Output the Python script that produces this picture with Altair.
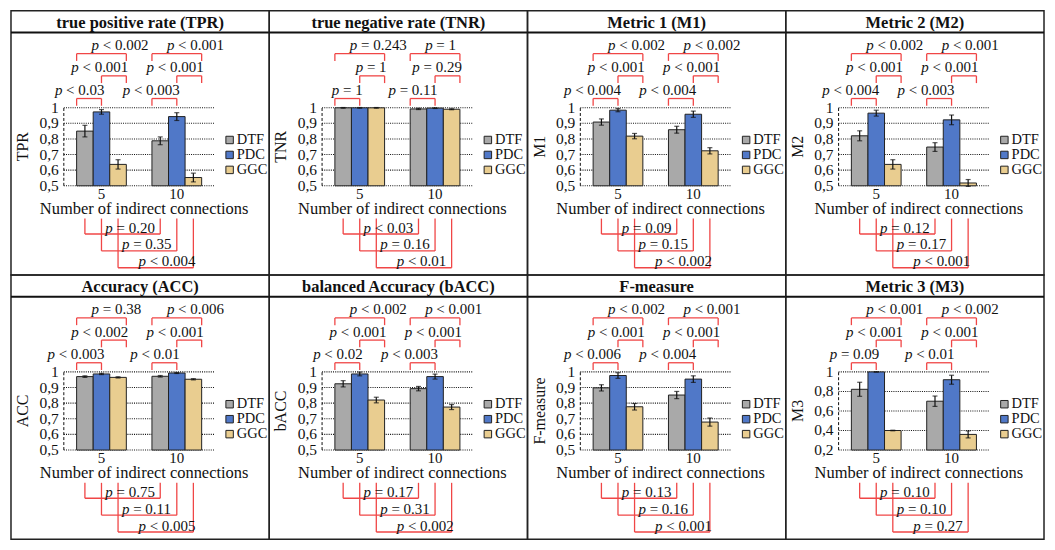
import altair as alt
import pandas as pd

FONT = "Liberation Serif"

TITLES = ["true positive rate (TPR)", "true negative rate (TNR)", "Metric 1 (M1)", "Metric 2 (M2)",
          "Accuracy (ACC)", "balanced Accuracy (bACC)", "F-measure", "Metric 3 (M3)"]
Y_TITLES = ["TPR", "TNR", "M1", "M2", "ACC", "bACC", "F-measure", "M3"]
METHODS = ["DTF", "PDC", "GGC"]
GROUPS = ["5", "10"]
X_TITLE = "Number of indirect connections"
COLORS = ["#a9a9a9", "#5078c8", "#e9cd90"]

# order: DTF5, PDC5, GGC5, DTF10, PDC10, GGC10
TPR_MEAN = [0.850, 0.973, 0.637, 0.788, 0.943, 0.553]
TPR_ERR = [0.037, 0.015, 0.030, 0.025, 0.025, 0.028]
TNR_MEAN = [0.999, 0.999, 0.999, 0.992, 0.997, 0.990]
TNR_ERR = [0.002, 0.002, 0.002, 0.004, 0.002, 0.003]
M1_MEAN = [0.908, 0.984, 0.818, 0.859, 0.958, 0.724]
M1_ERR = [0.020, 0.010, 0.017, 0.022, 0.020, 0.020]
M2_MEAN = [0.820, 0.965, 0.637, 0.748, 0.922, 0.518]
M2_ERR = [0.032, 0.019, 0.030, 0.028, 0.031, 0.022]
ACC_MEAN = [0.970, 0.987, 0.965, 0.972, 0.993, 0.953]
ACC_ERR = [0.005, 0.004, 0.004, 0.005, 0.003, 0.004]
BACC_MEAN = [0.924, 0.987, 0.820, 0.893, 0.970, 0.775]
BACC_ERR = [0.020, 0.012, 0.018, 0.014, 0.016, 0.016]
F_MEAN = [0.898, 0.977, 0.777, 0.852, 0.954, 0.679]
F_ERR = [0.020, 0.018, 0.021, 0.023, 0.021, 0.026]
M3_MEAN = [0.822, 1.000, 0.400, 0.700, 0.920, 0.360]
M3_ERR = [0.072, 0.000, 0.003, 0.053, 0.046, 0.036]

# top brackets: group 5 (DTF-PDC, PDC-GGC, DTF-GGC), then group 10 (same)
TPR_PTOP = ["p < 0.03", "p < 0.001", "p < 0.002", "p < 0.003", "p < 0.001", "p < 0.001"]
TNR_PTOP = ["p = 1", "p = 1", "p = 0.243", "p = 0.11", "p = 0.29", "p = 1"]
M1_PTOP = ["p < 0.004", "p < 0.001", "p < 0.002", "p < 0.004", "p < 0.001", "p < 0.002"]
M2_PTOP = ["p < 0.004", "p < 0.001", "p < 0.002", "p < 0.003", "p < 0.001", "p < 0.001"]
ACC_PTOP = ["p < 0.003", "p < 0.002", "p = 0.38", "p < 0.01", "p < 0.001", "p < 0.006"]
BACC_PTOP = ["p < 0.02", "p < 0.001", "p < 0.002", "p < 0.003", "p < 0.001", "p < 0.001"]
F_PTOP = ["p < 0.006", "p < 0.001", "p < 0.002", "p < 0.004", "p < 0.001", "p < 0.001"]
M3_PTOP = ["p = 0.09", "p < 0.001", "p < 0.001", "p < 0.01", "p < 0.001", "p < 0.002"]

# bottom brackets: 5 vs 10 for DTF, PDC, GGC
TPR_PBOT = ["p = 0.20", "p = 0.35", "p < 0.004"]
TNR_PBOT = ["p < 0.03", "p = 0.16", "p < 0.01"]
M1_PBOT = ["p = 0.09", "p = 0.15", "p < 0.002"]
M2_PBOT = ["p = 0.12", "p = 0.17", "p < 0.001"]
ACC_PBOT = ["p = 0.75", "p = 0.11", "p < 0.005"]
BACC_PBOT = ["p = 0.17", "p = 0.31", "p < 0.002"]
F_PBOT = ["p = 0.13", "p = 0.16", "p < 0.001"]
M3_PBOT = ["p = 0.10", "p = 0.10", "p = 0.27"]

Y_TICKS_STD = [0.5, 0.6, 0.7, 0.8, 0.9, 1.0]
Y_LABELS_STD = ["0,5", "0,6", "0,7", "0,8", "0,9", "1"]
Y_TICKS_M3 = [0.2, 0.4, 0.6, 0.8, 1.0]
Y_LABELS_M3 = ["0,2", "0,4", "0,6", "0,8", "1"]

MEANS = [TPR_MEAN, TNR_MEAN, M1_MEAN, M2_MEAN, ACC_MEAN, BACC_MEAN, F_MEAN, M3_MEAN]
ERRS = [TPR_ERR, TNR_ERR, M1_ERR, M2_ERR, ACC_ERR, BACC_ERR, F_ERR, M3_ERR]
PTOPS = [TPR_PTOP, TNR_PTOP, M1_PTOP, M2_PTOP, ACC_PTOP, BACC_PTOP, F_PTOP, M3_PTOP]
PBOTS = [TPR_PBOT, TNR_PBOT, M1_PBOT, M2_PBOT, ACC_PBOT, BACC_PBOT, F_PBOT, M3_PBOT]
TICKS = [Y_TICKS_STD] * 7 + [Y_TICKS_M3]
TICKLABELS = [Y_LABELS_STD] * 7 + [Y_LABELS_M3]

# ---------------- layout (pixels inside one cell) ----------------
W, H = 259, 265
SX, SY = W / 264.0, H / 274.0
PL, PR = 54 * SX, 208 * SX
PT, PB = 100.5 * SY, 181.5 * SY
PPX = (PR - PL) / 2.0
BW = 0.22
GC = [0.5, 1.5]
OFFS = {"DTF": -BW, "PDC": 0.0, "GGC": BW}
ANCHOR = {"DTF": -1.5 * BW, "PDC": 0.0, "GGC": 1.5 * BW}
TOP_PAIRS = [("DTF", "PDC"), ("PDC", "GGC"), ("DTF", "GGC")]
TOP_LEVEL_PX = [PT - 9.5 * SY, PT - 33 * SY, PT - 56 * SY]
TOP_DROP = 7.5 * SY
BOT_TOP_PX = PB + 34 * SY
BOT_LEVEL_PX = [PB + 50 * SY, PB + 67.5 * SY, PB + 85 * SY]
FS_P = 15
RED = "#f04646"
CHW = {" ": 0.25, "<": 0.564, "=": 0.564, ".": 0.25}


def text_w(s, fs):
    return fs * sum(CHW.get(c, 0.5) for c in s)


def panel(i):
    ymin = TICKS[i][0]
    ppu = (PB - PT) / (1.0 - ymin)

    def yd(py):
        return 1.0 - (py - PT) / ppu

    def xd(px):
        return (px - PL) / PPX

    xs = alt.Scale(domain=[xd(0), xd(W)], nice=False, zero=False)
    ys = alt.Scale(domain=[yd(H), yd(0)], nice=False, zero=False)
    X = lambda f: alt.X(f, type="quantitative", scale=xs, axis=None)
    Y = lambda f: alt.Y(f, type="quantitative", scale=ys, axis=None)

    rows = []
    caps = []
    for gi, g in enumerate(GROUPS):
        for mi, m in enumerate(METHODS):
            v = MEANS[i][gi * 3 + mi]
            e = ERRS[i][gi * 3 + mi]
            xc = GC[gi] + OFFS[m]
            rows.append(dict(method=m, group=g, mean=v, xc=xc, xl=xc - BW / 2, xr=xc + BW / 2,
                             base=ymin, lo=v - e, hi=v + e))
            caps.append(dict(xc=xc, yc=v - e))
            caps.append(dict(xc=xc, yc=v + e))
    bars_df = pd.DataFrame(rows)
    caps_df = pd.DataFrame(caps)

    # brackets
    segs = []
    labels = []
    for gi in range(2):
        for li, (a, b) in enumerate(TOP_PAIRS):
            xa = GC[gi] + ANCHOR[a]
            xb = GC[gi] + ANCHOR[b]
            yl = yd(TOP_LEVEL_PX[li])
            ydr = yd(TOP_LEVEL_PX[li] + TOP_DROP)
            segs += [dict(x=xa, x2=xb, y=yl, y2=yl), dict(x=xa, x2=xa, y=yl, y2=ydr),
                     dict(x=xb, x2=xb, y=yl, y2=ydr)]
            s = PTOPS[i][gi * 3 + li]
            rest = s[2:]
            wt = text_w("p " + rest, FS_P)
            if li == 2:
                xlft = xa + 15.0 / PPX
            elif li == 1:
                xlft = xb + (2.0 - wt) / PPX
            else:
                xlft = xb + (3.0 - wt) / PPX
            labels.append(dict(xl=xlft, y=yd(TOP_LEVEL_PX[li] - 3.5), p="p", rest=rest))
    ytop = yd(BOT_TOP_PX)
    for mi, m in enumerate(METHODS):
        x5 = GC[0] + OFFS[m]
        x10 = GC[1] + OFFS[m]
        yl = yd(BOT_LEVEL_PX[mi])
        segs += [dict(x=x5, x2=x5, y=ytop, y2=yl), dict(x=x10, x2=x10, y=ytop, y2=yl),
                 dict(x=x5, x2=x10, y=yl, y2=yl)]
        s = PBOTS[i][mi]
        labels.append(dict(xl=x5 + 20.5 / PPX, y=yd(BOT_LEVEL_PX[mi] - 1.5), p="p", rest=s[2:]))
    seg_df = pd.DataFrame(segs)
    lab_df = pd.DataFrame(labels)

    grid_df = pd.DataFrame(dict(y=TICKS[i], lab=TICKLABELS[i], x0=0.0, x1=2.0))
    yaxis_df = pd.DataFrame(dict(x=[0.0], y=[ymin], y2=[1.0]))
    xt_df = pd.DataFrame(dict(x=GC, y=[ymin, ymin], lab=GROUPS))
    xtitle_df = pd.DataFrame(dict(x=[1.0], y=[ymin], lab=[X_TITLE]))
    ytitle_df = pd.DataFrame(dict(x=[xd(12.5 * SX)], y=[(ymin + 1.0) / 2], lab=[Y_TITLES[i]]))
    one = pd.DataFrame(dict(lab=[TITLES[i]]))

    grid = alt.Chart(grid_df).mark_rule(color="#111", strokeWidth=1.1, strokeDash=[1, 1.2]).encode(
        x=X("x0"), x2="x1", y=Y("y"))
    yaxis = alt.Chart(yaxis_df).mark_rule(color="#111", strokeWidth=1, strokeDash=[3, 2]).encode(
        x=X("x"), y=Y("y"), y2="y2")
    ylabels = alt.Chart(grid_df).mark_text(font=FONT, fontSize=15.5, align="right", baseline="middle",
                                           dx=-5, color="#111").encode(x=X("x0"), y=Y("y"), text="lab")
    bars = alt.Chart(bars_df).mark_bar(stroke="#222", strokeWidth=1).encode(
        x=X("xl"), x2="xr", y=Y("mean"), y2="base",
        color=alt.Color("method:N", scale=alt.Scale(domain=METHODS, range=COLORS),
                        legend=alt.Legend(title=None, orient="none", legendX=212,
                                          legendY=PT + 26 * SY,
                                          symbolType="square", symbolSize=56, symbolStrokeColor="#222",
                                          symbolStrokeWidth=1, labelFont=FONT, labelFontSize=14.5,
                                          labelColor="#111", rowPadding=0, labelOffset=0, padding=0)))
    err = alt.Chart(bars_df).mark_rule(color="#111", strokeWidth=1.2).encode(
        x=X("xc"), y=Y("lo"), y2="hi")
    cap = alt.Chart(caps_df).mark_tick(color="#111", orient="horizontal", size=5, thickness=1.2).encode(
        x=X("xc"), y=Y("yc"))
    brackets = alt.Chart(seg_df).mark_rule(color=RED, strokeWidth=1.3).encode(
        x=X("x"), x2="x2", y=Y("y"), y2="y2")
    lab_p = alt.Chart(lab_df).mark_text(font=FONT, fontSize=FS_P, fontStyle="italic", align="left",
                                        baseline="alphabetic", color="#111").encode(
        x=X("xl"), y=Y("y"), text="p")
    lab_r = alt.Chart(lab_df).mark_text(font=FONT, fontSize=FS_P, align="left", baseline="alphabetic",
                                        dx=FS_P * 0.75, color="#111").encode(
        x=X("xl"), y=Y("y"), text="rest")
    xt = alt.Chart(xt_df).mark_text(font=FONT, fontSize=15, baseline="alphabetic", dy=13.5,
                                    color="#111").encode(x=X("x"), y=Y("y"), text="lab")
    xtitle = alt.Chart(xtitle_df).mark_text(font=FONT, fontSize=16.5, baseline="alphabetic", dy=28,
                                            dx=5, color="#111").encode(x=X("x"), y=Y("y"), text="lab")
    ytitle = alt.Chart(ytitle_df).mark_text(font=FONT, fontSize=16, angle=270, baseline="middle",
                                            align="center", color="#111").encode(
        x=X("x"), y=Y("y"), text="lab")
    title = alt.Chart(one).mark_text(font=FONT, fontSize=16.5, fontWeight="bold", baseline="middle",
                                     color="#111").encode(
        x=alt.value(W / 2), y=alt.value(12.5 * SY), text="lab")
    tline = alt.Chart(one).mark_rule(color="#111", strokeWidth=2).encode(
        x=alt.value(0), x2=alt.value(W), y=alt.value(22.5 * SY))

    return alt.layer(grid, yaxis, bars, err, cap, ylabels, xt, xtitle, ytitle, brackets,
                     lab_p, lab_r, title, tline).properties(width=W, height=H)


panels = [panel(i) for i in range(8)]
chart = alt.concat(*panels, columns=4, spacing=0, bounds="flush").resolve_scale(
    color="independent").properties(padding=1).configure_view(stroke="#222", strokeWidth=1.5)

chart.save("out.html", embed_options={"renderer": "svg", "actions": False})
